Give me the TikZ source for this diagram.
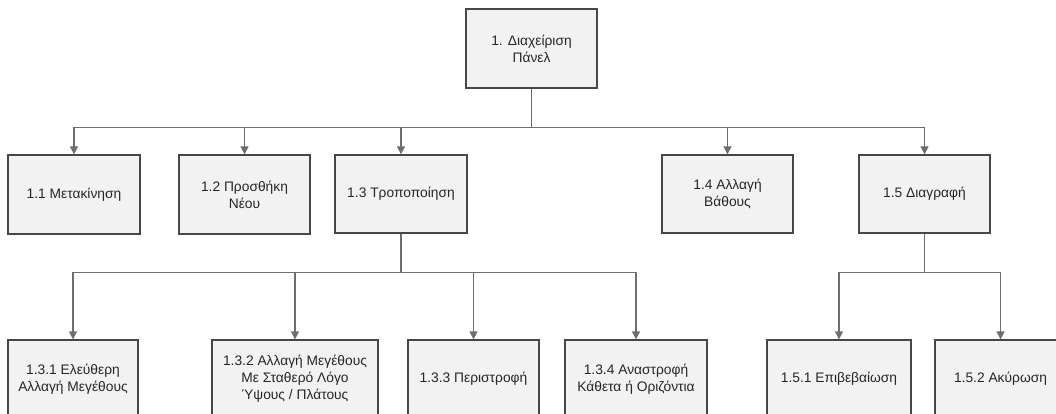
\documentclass[tikz,border=0pt]{standalone}
\usepackage{fontspec}
\setmainfont{Liberation Sans}
\usetikzlibrary{arrows.meta}
\definecolor{boxfill}{HTML}{F2F2F2}
\definecolor{boxline}{HTML}{474747}
\definecolor{connline}{HTML}{6E6E6E}
\tikzset{
  box/.style={draw=boxline, line width=1.3pt, fill=boxfill, align=center,
    font=\fontsize{13.8}{16.8}\selectfont, text=black!85, inner sep=0pt},
  conn/.style={draw=connline, line width=1.3pt, -{Triangle[width=8pt,length=8pt]}},
  link/.style={draw=connline, line width=1.3pt}
}
\begin{document}
\begin{tikzpicture}[x=1pt,y=-1pt]
\useasboundingbox (0,0) rectangle (1056,414);
\clip (0,0) rectangle (1056,414);
% top
\node[box, minimum width=131pt, minimum height=79pt] (top) at (531.5,48.5) {1. Διαχείριση\\Πάνελ};
% level 1
\node[box, minimum width=132pt, minimum height=79pt] (n11) at (74,194.5) {1.1 Μετακίνηση};
\node[box, minimum width=131pt, minimum height=79pt] (n12) at (244.5,194.5) {1.2 Προσθήκη\\Νέου};
\node[box, minimum width=132pt, minimum height=78pt] (n13) at (401,194) {1.3 Τροποποίηση};
\node[box, minimum width=131pt, minimum height=78pt] (n14) at (727.5,194) {1.4 Αλλαγή\\Βάθους};
\node[box, minimum width=131pt, minimum height=78pt] (n15) at (924.5,194) {1.5 Διαγραφή};
% level 2
\node[box, minimum width=130pt, minimum height=78pt] (n131) at (73,379) {1.3.1 Ελεύθερη\\Αλλαγή Μεγέθους};
\node[box, minimum width=166pt, minimum height=78pt] (n132) at (295,379) {1.3.2 Αλλαγή Μεγέθους\\Με Σταθερό Λόγο\\Ύψους / Πλάτους};
\node[box, minimum width=131pt, minimum height=78pt] (n133) at (473.5,379) {1.3.3 Περιστροφή};
\node[box, minimum width=142pt, minimum height=78pt] (n134) at (636,379) {1.3.4 Αναστροφή\\Κάθετα ή Οριζόντια};
\node[box, minimum width=144pt, minimum height=78pt] (n151) at (839,379) {1.5.1 Επιβεβαίωση};
\node[box, minimum width=131pt, minimum height=78pt] (n152) at (1000.5,379) {1.5.2 Ακύρωση};
% buses
\coordinate (bus0) at (531.5,127.5);
\coordinate (bus13) at (401,272.5);
\coordinate (bus15) at (924.5,272.5);
\draw[link] (top.south) -- (bus0);
\foreach \n in {n11,n12,n13,n14,n15}
  \draw[conn] (bus0) -| (\n.north);
\draw[link] (n13.south) -- (bus13);
\foreach \n in {n131,n132,n133,n134}
  \draw[conn] (bus13) -| (\n.north);
\draw[link] (n15.south) -- (bus15);
\foreach \n in {n151,n152}
  \draw[conn] (bus15) -| (\n.north);
\end{tikzpicture}
\end{document}
